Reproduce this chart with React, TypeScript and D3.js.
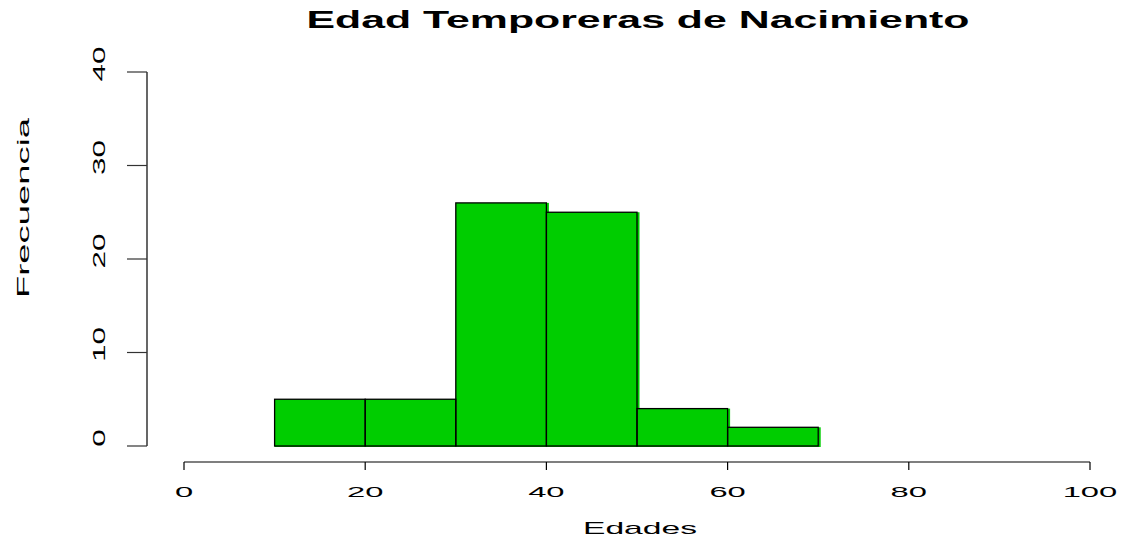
import React from "react";
import * as d3 from "d3";

const binStarts = [10, 20, 30, 40, 50, 60];
const binWidth = 10;
const counts = [5, 5, 26, 25, 4, 2];
const xTicks = [0, 20, 40, 60, 80, 100];
const yTicks = [0, 10, 20, 30, 40];
const title = "Edad Temporeras de Nacimiento";
const xLabel = "Edades";
const yLabel = "Frecuencia";

const W = 1124;
const H = 540;
const FONT = "'Liberation Sans', Arial, Helvetica, sans-serif";

export default function App() {
  const x = d3.scaleLinear().domain([0, 100]).range([184, 1090]);
  const y = d3.scaleLinear().domain([0, 40]).range([446, 72]);
  const xAxisY = 462;
  const yAxisX = 147;
  const digitW = 18.2;

  return (
    <svg
      width={W}
      height={H}
      style={{ position: "absolute", left: 0, top: 0, display: "block", background: "#fff" }}
    >
      {/* title */}
      <text
        x={638}
        y={28}
        textAnchor="middle"
        fontFamily={FONT}
        fontWeight="bold"
        fontSize={23}
        textLength={663}
        lengthAdjust="spacingAndGlyphs"
      >
        {title}
      </text>

      {/* bars */}
      {binStarts.map((b, i) => (
        <rect
          key={b}
          x={x(b)}
          y={y(counts[i])}
          width={x(b + binWidth) - x(b) + 2.5}
          height={y(0) - y(counts[i]) + 1}
          fill="#00CD00"
        />
      ))}
      {binStarts.map((b, i) => (
        <rect
          key={"o" + b}
          x={x(b)}
          y={y(counts[i])}
          width={x(b + binWidth) - x(b)}
          height={y(0) - y(counts[i])}
          fill="none"
          stroke="#000"
          strokeWidth={1.3}
        />
      ))}

      {/* x axis */}
      <line x1={x(0)} x2={x(100)} y1={xAxisY} y2={xAxisY} stroke="#000" strokeWidth={1.2} />
      {xTicks.map((t) => (
        <g key={"xt" + t}>
          <line x1={x(t)} x2={x(t)} y1={xAxisY} y2={xAxisY + 8} stroke="#000" strokeWidth={1.2} />
          <text
            x={x(t)}
            y={497}
            textAnchor="middle"
            fontFamily={FONT}
            fontSize={15.5}
            textLength={String(t).length * digitW}
            lengthAdjust="spacingAndGlyphs"
          >
            {t}
          </text>
        </g>
      ))}

      {/* y axis */}
      <line x1={yAxisX} x2={yAxisX} y1={y(0)} y2={y(40)} stroke="#000" strokeWidth={1.2} />
      {yTicks.map((t) => (
        <g key={"yt" + t}>
          <line x1={yAxisX - 20} x2={yAxisX} y1={y(t)} y2={y(t)} stroke="#333" strokeWidth={1.2} />
          <text
            transform={`translate(105,${y(t) - 8}) rotate(-90)`}
            textAnchor="middle"
            fontFamily={FONT}
            fontSize={17}
            textLength={String(t).length * 17.5}
            lengthAdjust="spacingAndGlyphs"
          >
            {t}
          </text>
        </g>
      ))}

      {/* axis labels */}
      <text
        x={640}
        y={534}
        textAnchor="middle"
        fontFamily={FONT}
        fontSize={17}
        textLength={114}
        lengthAdjust="spacingAndGlyphs"
      >
        {xLabel}
      </text>
      <text
        transform="translate(29,208) rotate(-90)"
        textAnchor="middle"
        fontFamily={FONT}
        fontSize={17}
        textLength={180}
        lengthAdjust="spacingAndGlyphs"
      >
        {yLabel}
      </text>
    </svg>
  );
}
